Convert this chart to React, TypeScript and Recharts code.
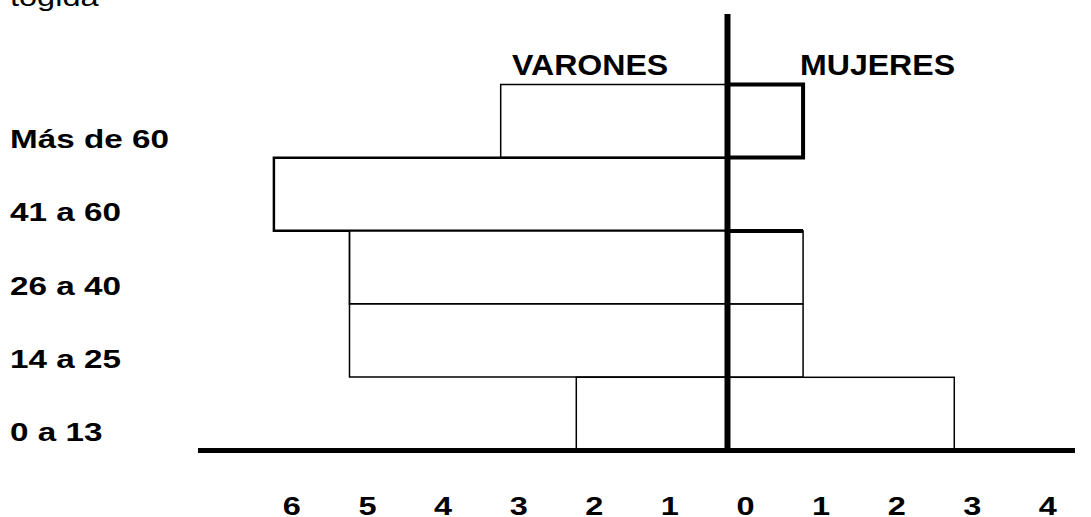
import React from 'react';
import { BarChart, Bar, XAxis, YAxis, ReferenceLine, Cell } from 'recharts';

// ---- data ----
const categories = ['Más de 60', '41 a 60', '26 a 40', '14 a 25', '0 a 13'];
const varones = [3, 6, 5, 5, 2];
const mujeres = [1, 0, 1, 1, 3];
const xTicks = [-6, -5, -4, -3, -2, -1, 0, 1, 2, 3, 4];
const headers = ['VARONES', 'MUJERES'];
const titleText = 'togida';

// ---- styles ----
const varonesStroke = [1.5, 2.5, 1.8, 1.5, 1.5];
const mujeresStroke = [4, 1.5, 1.5, 1.5, 1.5];
const mujeresTopStroke = [0, 0, 4, 0, 0];
const FONT = '"Liberation Sans", Arial, Helvetica, sans-serif';
const STRETCH = 1.3;

const data = categories.map((c, i) => ({
  group: c,
  varones: -varones[i],
  mujeres: mujeres[i],
}));

const YTick = (props: any) => {
  const { y, payload } = props;
  return (
    <g transform={`translate(10, ${y + 27})`}>
      <text
        transform={`scale(1.33, 1)`}
        textAnchor="start"
        fontFamily={FONT}
        fontWeight="bold"
        fontSize={25}
        fill="#000"
      >
        {payload.value}
      </text>
    </g>
  );
};

const XTick = (props: any) => {
  const { x, y, payload } = props;
  return (
    <g transform={`translate(${x + 18}, ${y + 64})`}>
      <text
        transform={`scale(${STRETCH}, 1)`}
        textAnchor="middle"
        fontFamily={FONT}
        fontWeight="bold"
        fontSize={25}
        fill="#000"
      >
        {Math.abs(payload.value)}
      </text>
    </g>
  );
};

const CenterLine = (props: any) => {
  const { x1, y1, x2, y2 } = props;
  return <line x1={x1} y1={y1} x2={x2} y2={y2} stroke="#000" strokeWidth={6} />;
};

const MujeresShape = (props: any) => {
  const { x, y, width, height, index } = props;
  if (!width || width <= 0) return null;
  const sw = mujeresStroke[index] ?? 1.5;
  const top = mujeresTopStroke[index] ?? 0;
  return (
    <g>
      <rect x={x} y={y} width={width} height={height} fill="#fff" stroke="#000" strokeWidth={sw} />
      {top > 0 && <line x1={x} y1={y} x2={x + width} y2={y} stroke="#000" strokeWidth={top} />}
    </g>
  );
};

export default function App() {
  return (
    <div style={{ position: 'absolute', left: 0, top: 0, width: 1091, height: 517, background: '#fff' }}>
      <BarChart
        width={1091}
        height={517}
        data={data}
        layout="vertical"
        stackOffset="sign"
        barCategoryGap={0}
        margin={{ top: 14, right: 16, bottom: 0, left: 0 }}
      >
        <XAxis
          type="number"
          domain={[-7.004, 4.597]}
          allowDataOverflow
          ticks={xTicks}
          interval={0}
          tickLine={false}
          tickSize={0}
          tickMargin={0}
          height={66.5}
          axisLine={{ stroke: '#000', strokeWidth: 5 }}
          tick={<XTick />}
        />
        <YAxis
          type="category"
          dataKey="group"
          width={198}
          axisLine={false}
          tickLine={false}
          padding={{ top: 70.5, bottom: 0 }}
          tick={<YTick />}
          interval={0}
        />
        <Bar dataKey="varones" stackId="p" fill="#fff" stroke="#000" isAnimationActive={false}>
          {data.map((d, i) => (
            <Cell key={`v${i}`} fill="#fff" stroke="#000" strokeWidth={varonesStroke[i]} />
          ))}
        </Bar>
        <Bar
          dataKey="mujeres"
          stackId="p"
          fill="#fff"
          stroke="#000"
          isAnimationActive={false}
          shape={<MujeresShape />}
        />
        <ReferenceLine x={0} stroke="#000" strokeWidth={6} shape={<CenterLine />} />
      </BarChart>
      <svg
        width={1091}
        height={517}
        style={{ position: 'absolute', left: 0, top: 0, pointerEvents: 'none' }}
      >
        <g transform="translate(10, 6)">
          <text transform={`scale(${STRETCH}, 1)`} fontFamily={FONT} fontSize={25} fill="#000">
            {titleText}
          </text>
        </g>
        <g transform="translate(512, 75)">
          <text transform="scale(1.07, 1)" fontFamily={FONT} fontWeight="bold" fontSize={30} fill="#000">
            {headers[0]}
          </text>
        </g>
        <g transform="translate(800, 75)">
          <text transform="scale(1.07, 1)" fontFamily={FONT} fontWeight="bold" fontSize={30} fill="#000">
            {headers[1]}
          </text>
        </g>
      </svg>
    </div>
  );
}
